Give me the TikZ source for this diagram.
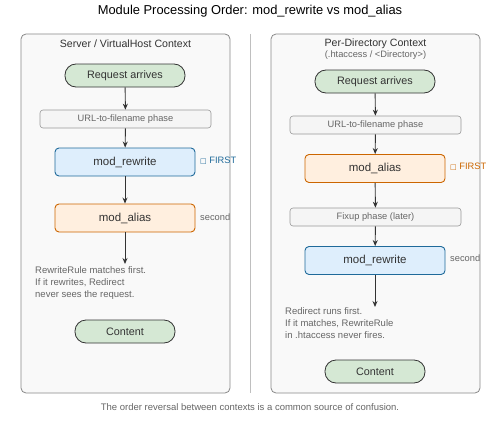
\documentclass[tikz,border=0pt]{standalone}
\usepackage{fontspec}
\setmainfont{Liberation Sans}
\newfontfamily\symfont{DejaVu Sans}
\usetikzlibrary{arrows.meta}
\definecolor{ink}{HTML}{333333}
\definecolor{greyink}{HTML}{666666}
\definecolor{panelfill}{HTML}{F9F9F9}
\definecolor{panelline}{HTML}{888888}
\definecolor{termfill}{HTML}{D5E8D4}
\definecolor{phasefill}{HTML}{F5F5F5}
\definecolor{phaseline}{HTML}{999999}
\definecolor{rwfill}{HTML}{DEEEFC}
\definecolor{rwline}{HTML}{1F6A9A}
\definecolor{alfill}{HTML}{FFEFDF}
\definecolor{alline}{HTML}{CC6600}
\tikzset{
  panel/.style={draw=panelline,fill=panelfill,rounded corners=5pt,line width=0.8pt},
  term/.style={draw=ink,fill=termfill,rounded corners=11pt,minimum height=23pt,
    font=\fontsize{10.8}{12}\selectfont,text=ink,line width=0.8pt,inner sep=0pt},
  phasebox/.style={draw=phaseline,fill=phasefill,rounded corners=3pt,minimum width=171pt,
    minimum height=18pt,font=\fontsize{9.3}{10}\selectfont,text=greyink,line width=0.6pt,inner sep=0pt},
  modbox/.style={rounded corners=4pt,minimum width=140pt,minimum height=28pt,
    font=\fontsize{11.5}{12}\selectfont,text=ink,line width=0.9pt,inner sep=0pt},
  rwbox/.style={modbox,draw=rwline,fill=rwfill},
  albox/.style={modbox,draw=alline,fill=alfill},
  flow/.style={draw=ink,line width=0.9pt,-{Stealth[length=6pt,width=5pt]}},
  note/.style={font=\fontsize{9.5}{12}\selectfont,text=greyink,align=left,anchor=north west,inner sep=0pt},
  tag/.style={font=\fontsize{9.3}{10}\selectfont,anchor=west,inner sep=0pt},
}
\begin{document}
\begin{tikzpicture}[x=1pt,y=-1pt]
        \useasboundingbox (0,0) rectangle (500,420);
        \node[font=\fontsize{12.9}{14}\selectfont,text=black] (title) at (250,11) {Module Processing Order: mod\_rewrite vs mod\_alias};

        % left panel: server context
        \draw[panel] (21,34) rectangle (230,393);
        \node[font=\fontsize{10.6}{11}\selectfont,text=ink] (ltitle) at (125.5,43.5) {Server / VirtualHost Context};
        \node[term,minimum width=120pt] (lreq) at (125,75.5) {Request arrives};
        \node[phasebox] (lurl) at (125.5,119) {URL-to-filename phase};
        \node[rwbox] (lrw) at (125,162) {mod\_rewrite};
        \node[albox] (lal) at (125,218) {mod\_alias};
        \coordinate (lend) at (125,264);
        \node[tag,text=rwline] (lfirst) at (200,161) {{\symfont\fontsize{7}{8}\selectfont □} FIRST};
        \node[tag,text=greyink] (lsecond) at (200,217) {second};
        \node[note] (lnote) at (35,266.5) {RewriteRule matches first.\\If it rewrites, Redirect\\never sees the request.};
        \node[term,minimum width=100pt] (lcont) at (125,331.5) {Content};
        \draw[flow] (lreq) -- (lurl);
        \draw[flow] (lurl) -- (lrw);
        \draw[flow] (lrw) -- (lal);
        \draw[flow] (lal) -- (lend);

        % divider
        \draw[draw=black!25,line width=0.8pt] (250,34) -- (250,393);

        % right panel: per-directory context
        \draw[panel] (271,34) rectangle (480,393);
        \node[font=\fontsize{10.6}{11}\selectfont,text=ink] (rtitle) at (375.5,43.5) {Per-Directory Context};
        \node[font=\fontsize{9.3}{10}\selectfont,text=greyink] (rsub) at (375.5,55.5) {(.htaccess / <Directory>)};
        \node[term,minimum width=120pt] (rreq) at (375,81.5) {Request arrives};
        \node[phasebox] (rurl) at (375.5,125) {URL-to-filename phase};
        \node[albox] (ral) at (375,168.5) {mod\_alias};
        \node[phasebox] (rfix) at (375.5,217) {Fixup phase (later)};
        \node[rwbox] (rrw) at (375,260.5) {mod\_rewrite};
        \coordinate (rend) at (375,307);
        \node[tag,text=alline] (rfirst) at (450,167) {{\symfont\fontsize{7}{8}\selectfont □} FIRST};
        \node[tag,text=greyink] (rsecond) at (450,258.5) {second};
        \node[note] (rnote) at (285,307.5) {Redirect runs first.\\If it matches, RewriteRule\\in .htaccess never fires.};
        \node[term,minimum width=100pt] (rcont) at (375,371.5) {Content};
        \draw[flow] (rreq) -- (rurl);
        \draw[flow] (rurl) -- (ral);
        \draw[flow] (ral) -- (rfix);
        \draw[flow] (rfix) -- (rrw);
        \draw[flow] (rrw) -- (rend);

        \node[font=\fontsize{9.5}{10}\selectfont,text=greyink] (caption) at (250,407.5) {The order reversal between contexts is a common source of confusion.};
\end{tikzpicture}
\end{document}
